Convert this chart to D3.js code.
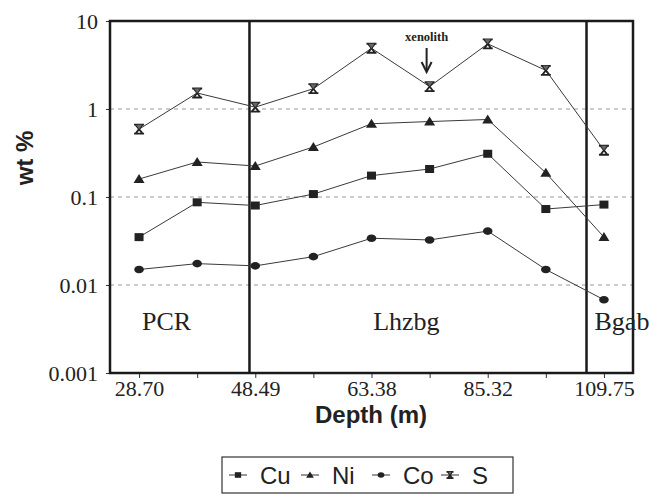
<!DOCTYPE html>
<html>
<head>
<meta charset="utf-8">
<script src="https://cdn.jsdelivr.net/npm/d3@7"></script>
<style>
  html, body { margin: 0; padding: 0; background: #fff; }
  svg { display: block; }
</style>
</head>
<body>
<svg id="chart" width="654" height="495"></svg>
<script>
// Sample depths (m); only alternate samples carry a tick label
const depthLabels = ["28.70", "", "48.49", "", "63.38", "", "85.32", "", "109.75"];

// Concentrations in wt %
const cu = [0.035, 0.087, 0.080, 0.108, 0.175, 0.208, 0.310, 0.073, 0.082];
const ni = [0.160, 0.250, 0.225, 0.370, 0.680, 0.720, 0.760, 0.188, 0.035];
const co = [0.0150, 0.0175, 0.0165, 0.0210, 0.0340, 0.0325, 0.0410, 0.0150, 0.0068];
const s  = [0.59, 1.52, 1.05, 1.70, 4.90, 1.80, 5.50, 2.75, 0.34];

const yTicks = [0.001, 0.01, 0.1, 1, 10];
const yTickLabels = ["0.001", "0.01", "0.1", "1", "10"];
const gridValues = [0.01, 0.1, 1];

// Lithological boundaries, in sample-index units
const zoneBounds = [1.9, 7.7];
const zoneNames = ["PCR", "Lhzbg", "Bgab"];
const xenolithIndex = 5;

const series = [
  { name: "Cu", values: cu, shape: "square" },
  { name: "Ni", values: ni, shape: "triangle" },
  { name: "Co", values: co, shape: "circle" },
  { name: "S",  values: s,  shape: "hourglass" }
];

const svg = d3.select("#chart");
const plotL = 110, plotR = 633, plotT = 21, plotB = 373;
const serif = "'Liberation Serif', 'Times New Roman', serif";
const sans = "'Liberation Sans', Arial, sans-serif";

const idx = d3.range(depthLabels.length);
const x = d3.scalePoint().domain(idx).range([plotL, plotR]).padding(0.5);
const xi = d3.scaleLinear().domain([0, idx.length - 1]).range([x(0), x(idx.length - 1)]);
const y = d3.scaleLog().domain([0.001, 10]).range([plotB, plotT]);

// Dashed gridlines at decades
svg.append("g").selectAll("line").data(gridValues).join("line")
  .attr("x1", plotL).attr("x2", plotR)
  .attr("y1", d => y(d)).attr("y2", d => y(d))
  .attr("stroke", "#999").attr("stroke-width", 1)
  .attr("stroke-dasharray", "4,4");

// Y axis
const yAxis = d3.axisLeft(y).tickValues(yTicks)
  .tickFormat((d, i) => yTickLabels[i]).tickSize(4).tickPadding(8);
const gy = svg.append("g").attr("transform", `translate(${plotL},0)`).call(yAxis);
gy.select(".domain").remove();
gy.selectAll(".tick line").attr("stroke", "#333");
gy.selectAll(".tick text")
  .attr("font-family", serif).attr("font-size", 22).attr("fill", "#222");

// X axis
const xAxis = d3.axisBottom(x).tickFormat(i => depthLabels[i]).tickSize(5).tickPadding(2);
const gx = svg.append("g").attr("transform", `translate(0,${plotB})`).call(xAxis);
gx.select(".domain").remove();
gx.selectAll(".tick line").attr("stroke", "#333");
gx.selectAll(".tick text")
  .attr("font-family", serif).attr("font-size", 22).attr("fill", "#222");

// Zone boundaries
svg.append("g").selectAll("line").data(zoneBounds).join("line")
  .attr("x1", d => xi(d)).attr("x2", d => xi(d))
  .attr("y1", plotT).attr("y2", plotB)
  .attr("stroke", "#1a1a1a").attr("stroke-width", 2.5);

// Plot frame
svg.append("rect")
  .attr("x", plotL).attr("y", plotT)
  .attr("width", plotR - plotL).attr("height", plotB - plotT)
  .attr("fill", "none").attr("stroke", "#1a1a1a").attr("stroke-width", 2.5);

// Zone names
const zoneX = [x(0) + 3, xi(4.6), xi(zoneBounds[1]) + 8];
const zoneAnchor = ["start", "middle", "start"];
svg.append("g").selectAll("text").data(zoneNames).join("text")
  .attr("x", (d, i) => zoneX[i]).attr("y", 330)
  .attr("text-anchor", (d, i) => zoneAnchor[i])
  .attr("font-family", serif).attr("font-size", 26).attr("fill", "#222")
  .text(d => d);

// Marker shapes
function marker(sel, shape, k) {
  if (shape === "square") {
    sel.append("rect").attr("x", -4.5 * k).attr("y", -4 * k)
      .attr("width", 9 * k).attr("height", 8 * k).attr("fill", "#222");
  } else if (shape === "triangle") {
    sel.append("path")
      .attr("d", `M0,${-5 * k}L${5.5 * k},${4 * k}L${-5.5 * k},${4 * k}Z`)
      .attr("fill", "#222");
  } else if (shape === "circle") {
    sel.append("ellipse").attr("rx", 4.8 * k).attr("ry", 3.8 * k).attr("fill", "#222");
  } else {
    const w = 5 * k, h = 4.5 * k;
    sel.append("path")
      .attr("d", `M${-w},${-h}L${w},${-h}M${-w},${h}L${w},${h}` +
                 `M${-w + 1.5},${-h}L${w - 1.5},${h}M${w - 1.5},${-h}L${-w + 1.5},${h}`)
      .attr("stroke", "#222").attr("stroke-width", 1.8).attr("fill", "none");
    sel.append("path")
      .attr("d", `M${-w + 2},${-h}L${w - 2},${-h}L0,0Z`)
      .attr("fill", "#666");
  }
}

// Series lines and markers
const line = d3.line().x((d, i) => x(i)).y(d => y(d));
series.forEach(sr => {
  svg.append("path").datum(sr.values)
    .attr("d", line).attr("fill", "none")
    .attr("stroke", "#3a3a3a").attr("stroke-width", 1);
  svg.append("g").selectAll("g").data(sr.values).join("g")
    .attr("transform", (d, i) => `translate(${x(i)},${y(d)})`)
    .each(function () { marker(d3.select(this), sr.shape, 1); });
});

// Xenolith annotation
const xa = x(xenolithIndex);
svg.append("text").attr("x", xa - 3).attr("y", 41)
  .attr("text-anchor", "middle").attr("font-family", serif)
  .attr("font-weight", "bold").attr("font-size", 12.5).attr("fill", "#222")
  .text("xenolith");
svg.append("line").attr("x1", xa - 3).attr("x2", xa - 3).attr("y1", 48).attr("y2", 70)
  .attr("stroke", "#222").attr("stroke-width", 2);
svg.append("path")
  .attr("d", `M${xa - 8},${62}L${xa - 3},${72}L${xa + 2},${62}`)
  .attr("fill", "none").attr("stroke", "#222").attr("stroke-width", 2);

// Axis titles
svg.append("text")
  .attr("transform", `translate(33,158) rotate(-90)`)
  .attr("text-anchor", "middle").attr("font-family", sans)
  .attr("font-weight", "bold").attr("font-size", 24).attr("fill", "#222")
  .text("wt %");
svg.append("text").attr("x", 371).attr("y", 423)
  .attr("text-anchor", "middle").attr("font-family", sans)
  .attr("font-weight", "bold").attr("font-size", 24).attr("fill", "#222")
  .text("Depth (m)");

// Legend
const legend = svg.append("g");
legend.append("rect").attr("x", 222).attr("y", 457).attr("width", 291).attr("height", 36)
  .attr("fill", "none").attr("stroke", "#333").attr("stroke-width", 1.2);
const legendX = [229, 301, 372, 441];
series.forEach((sr, i) => {
  const g = legend.append("g").attr("transform", `translate(${legendX[i]},475)`);
  g.append("line").attr("x1", 0).attr("x2", 18).attr("stroke", "#333").attr("stroke-width", 1);
  const m = g.append("g").attr("transform", "translate(9,0)");
  marker(m, sr.shape, 0.7);
  g.append("text").attr("x", 31).attr("y", 8.5)
    .attr("font-family", sans).attr("font-size", 24).attr("fill", "#222")
    .text(sr.name);
});
</script>
</body>
</html>
